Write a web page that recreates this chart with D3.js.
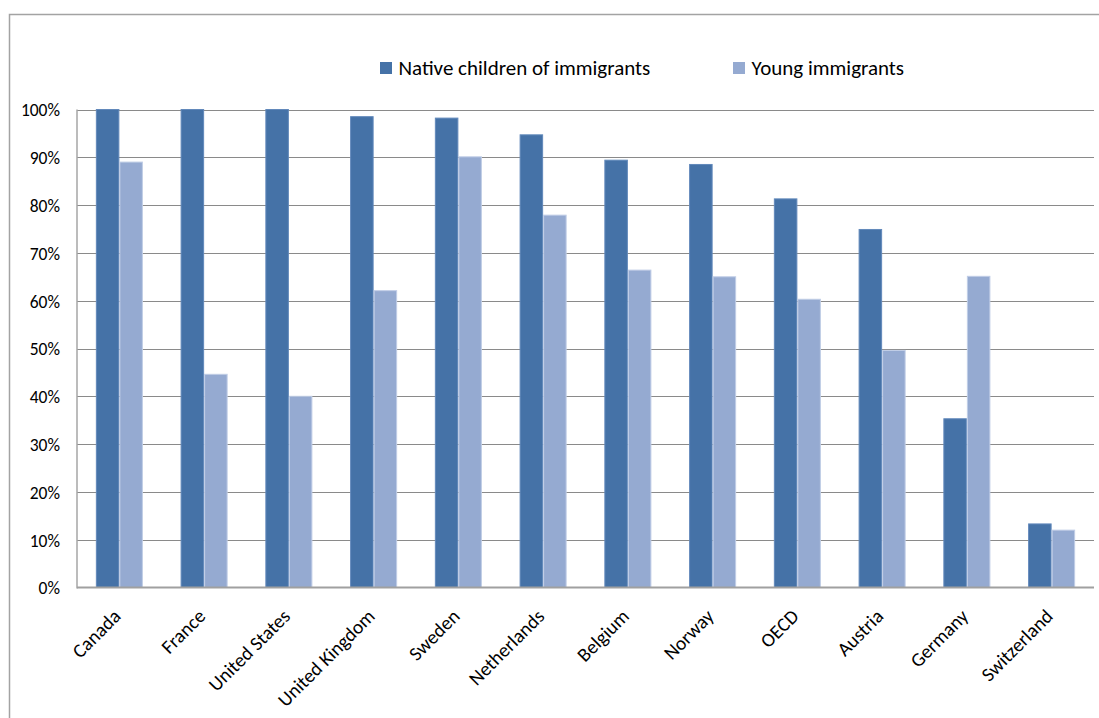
<!DOCTYPE html>
<html>
<head>
<meta charset="utf-8">
<script src="https://cdn.jsdelivr.net/npm/d3@7"></script>
<style>
  html, body { margin: 0; padding: 0; background: #fff; }
  svg { display: block; }
  text { font-family: Carlito, Calibri, Lato, "Open Sans", sans-serif; fill: #000; }
</style>
</head>
<body>
<svg id="chart" width="1099" height="718"></svg>
<script>
const categories = ["Canada", "France", "United States", "United Kingdom", "Sweden", "Netherlands",
                    "Belgium", "Norway", "OECD", "Austria", "Germany", "Switzerland"];
const seriesNames = ["Native children of immigrants", "Young immigrants"];
const nativeChildren = [100, 100, 100, 98.5, 98.2, 94.7, 89.4, 88.5, 81.3, 74.9, 35.3, 13.3];
const youngImmigrants = [89.0, 44.6, 40.0, 62.1, 90.1, 77.9, 66.4, 65.0, 60.3, 49.6, 65.1, 12.0];
const yTicks = [0, 10, 20, 30, 40, 50, 60, 70, 80, 90, 100];
const colors = ["#4572A7", "#95AAD1"];
const edgeColors = ["#6289bb", "#c0cde6"];

const svg = d3.select("#chart");
const W = 1099, H = 718;
const plot = { left: 77, right: 1094, top: 109.5, bottom: 587.5 };

// outer chart border
svg.append("rect")
  .attr("x", 9.5).attr("y", 14.5)
  .attr("width", W + 20).attr("height", H + 20)
  .attr("fill", "none").attr("stroke", "#a3a3a3").attr("stroke-width", 1.5);

const x = d3.scaleBand().domain(categories)
  .range([plot.left, plot.right]).paddingInner(0.445).paddingOuter(0.2225);
const xs = d3.scaleBand().domain(seriesNames).range([0, x.bandwidth()]);
const y = d3.scaleLinear().domain([0, 100]).range([plot.bottom, plot.top]);

// gridlines
svg.append("g").selectAll("line").data(yTicks.filter(t => t > 0)).join("line")
  .attr("x1", plot.left).attr("x2", plot.right)
  .attr("y1", d => Math.round(y(d)) + 0.5).attr("y2", d => Math.round(y(d)) + 0.5)
  .attr("stroke", "#8a8a8a").attr("stroke-width", 1);

// y-axis labels
const yAxis = d3.axisLeft(y).tickValues(yTicks).tickFormat(d => d + "%").tickSize(0).tickPadding(17);
const gy = svg.append("g").attr("transform", `translate(${plot.left},0)`).call(yAxis);
gy.select(".domain").remove();
gy.selectAll("text").style("font-size", "17.5px").attr("dy", "0.36em")
  .style("font-family", "Carlito, Calibri, Lato, sans-serif");

// bars
const data = categories.map((c, i) => ({ cat: c, vals: [nativeChildren[i], youngImmigrants[i]] }));
const groups = svg.append("g").selectAll("g").data(data).join("g")
  .attr("transform", d => `translate(${x(d.cat)},0)`);
groups.selectAll("rect").data(d => d.vals.map((v, k) => ({ v, k, s: seriesNames[k] }))).join("rect")
  .attr("x", d => xs(d.s) + 0.5)
  .attr("width", xs.bandwidth() - 1)
  .attr("y", d => y(d.v))
  .attr("height", d => y(0) - y(d.v))
  .attr("fill", d => colors[d.k])
  .attr("stroke", d => edgeColors[d.k]).attr("stroke-width", 1);

// axis lines
svg.append("line").attr("x1", plot.left).attr("x2", plot.left)
  .attr("y1", plot.top).attr("y2", plot.bottom + 1)
  .attr("stroke", "#a6a6a6").attr("stroke-width", 1.5);
svg.append("line").attr("x1", plot.left).attr("x2", plot.right)
  .attr("y1", plot.bottom).attr("y2", plot.bottom)
  .attr("stroke", "#a0a0a0").attr("stroke-width", 2);

// x-axis labels
const xAxis = d3.axisBottom(x).tickSize(0).tickPadding(0);
const gx = svg.append("g").attr("transform", `translate(0,${plot.bottom})`).call(xAxis);
gx.select(".domain").remove();
gx.selectAll("text")
  .style("font-size", "19.5px")
  .attr("text-anchor", "end")
  .attr("dy", null).attr("y", null)
  .attr("transform", "translate(2.5,30) rotate(-45)");

// legend
const legendX = [380, 733];
const lg = svg.append("g").selectAll("g").data(seriesNames).join("g")
  .attr("transform", (d, i) => `translate(${legendX[i]},62)`);
lg.append("rect").attr("width", 12).attr("height", 12).attr("fill", (d, i) => colors[i]);
lg.append("text").attr("x", 18.5).attr("y", 12.7).style("font-size", "21px").text(d => d);
</script>
</body>
</html>
